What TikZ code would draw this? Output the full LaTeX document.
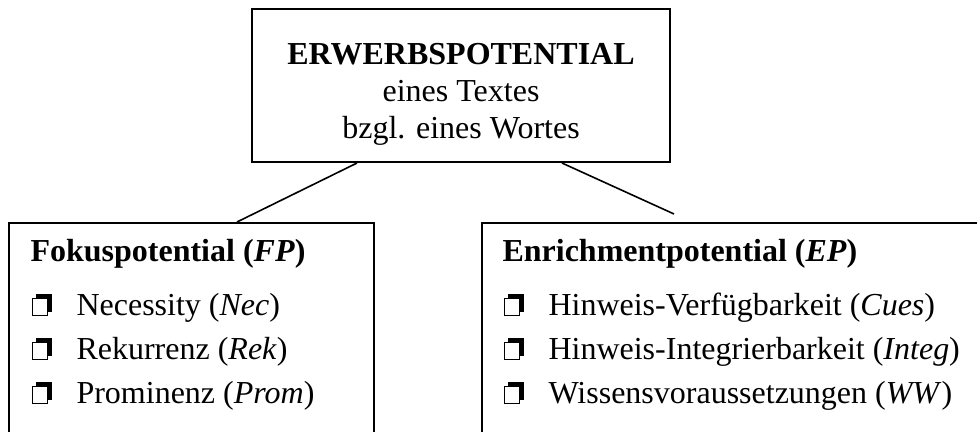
\documentclass[tikz,border=0pt]{standalone}
\usepackage{fontspec}
\setmainfont{Liberation Serif}
\begin{document}
\begin{tikzpicture}[x=0.375pt,y=-0.375pt,
  frame/.style={draw, line width=0.75pt, inner sep=0pt},
  link/.style={line width=0.6pt},
  title/.style={anchor=base, inner sep=0pt, font=\fontsize{12}{14}\selectfont},
  head/.style={anchor=base west, inner sep=0pt, font=\fontsize{12}{14}\bfseries\selectfont},
  entry/.style={anchor=base west, inner sep=0pt, font=\fontsize{12}{14}\selectfont},
  tickbox/.pic={
    \fill (4,-22) rectangle (20,-4);
    \filldraw[fill=white, line width=0.55pt] (0.7,-17.3) rectangle (15.3,-0.7);
  }]
\useasboundingbox (0,0) rectangle (977,432);
\clip (0,0) rectangle (977,432);

% main box and its three lines
\node[frame, minimum width=156.75pt, minimum height=57.4pt] (top) at (461,85.5) {};
\node[title, font=\fontsize{12}{14}\bfseries\selectfont] (t1) at (461,65) {ERWERBSPOTENTIAL};
\node[title] (t2) at (461,101.8) {eines Textes};
\node[title] (t3) at (461,138.6) {bzgl. eines Wortes};

% the two lower boxes (open towards the bottom edge)
\node[frame, anchor=north west, minimum width=136.9pt, minimum height=110pt] (fp) at (8,222) {};
\node[frame, anchor=north west, minimum width=200pt, minimum height=110pt] (ep) at (481,222) {};

% left column
\node[head] (fph) at (30,262) {Fokuspotential (\textit{FP})};
\node[entry] (fp1) at (76,316) {Necessity (\textit{Nec})};
\node[entry] (fp2) at (76,360) {Rekurrenz (\textit{Rek})};
\node[entry] (fp3) at (76,404) {Prominenz (\textit{Prom})};
\pic at (32,316) {tickbox};
\pic at (32,360) {tickbox};
\pic at (32,404) {tickbox};

% right column
\node[head] (eph) at (502,262) {Enrichmentpotential (\textit{EP})};
\node[entry] (ep1) at (548,316) {Hinweis-Verfügbarkeit (\textit{Cues})};
\node[entry] (ep2) at (548,360) {Hinweis-Integrierbarkeit (\textit{Integ})};
\node[entry] (ep3) at (548,404) {Wissensvoraussetzungen (\textit{WW})};
\pic at (504,316) {tickbox};
\pic at (504,360) {tickbox};
\pic at (504,404) {tickbox};

% connectors
\path (top.south west) ++(106,0) coordinate (topL);
\path (top.south west) ++(311,0) coordinate (topR);
\path (fp.north west) ++(229,0) coordinate (fpIn);
\coordinate (epEnd) at (674,214);
\draw[link] (topL) -- (fpIn);
\draw[link] (topR) -- (epEnd);
\end{tikzpicture}
\end{document}
